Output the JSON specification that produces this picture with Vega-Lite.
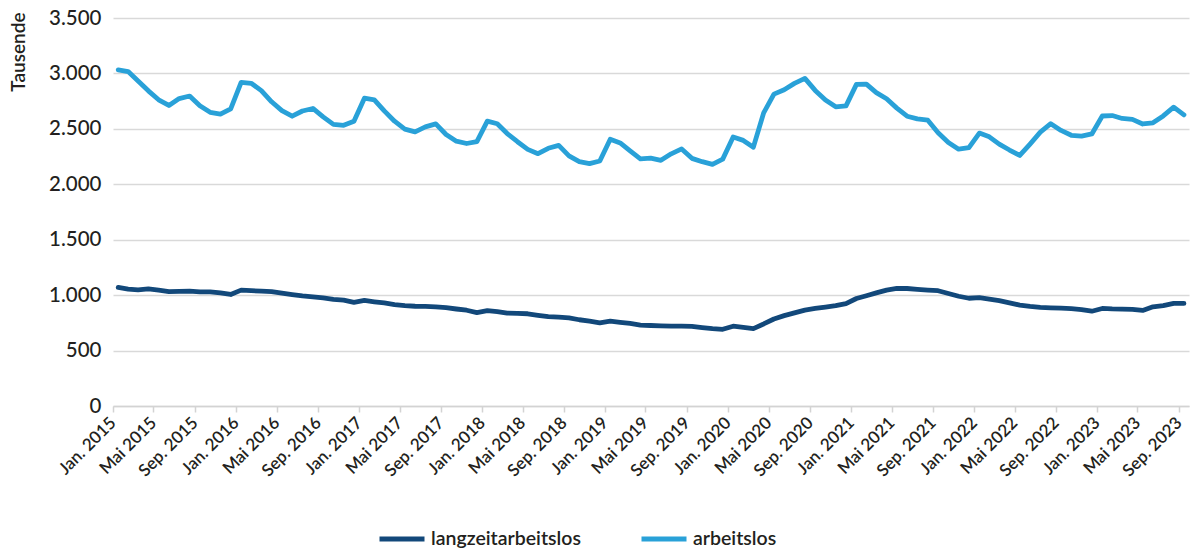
{
  "$schema": "https://vega.github.io/schema/vega-lite/v6.json",
  "width": 1076,
  "height": 388,
  "autosize": {"type": "none"},
  "padding": {"left": 113, "top": 18, "right": 1, "bottom": 143},
  "background": "white",
  "config": {"view": {"stroke": null}, "font": "Lato"},
  "data": {"values": [
    {"Monat": "2015-01", "arbeitslos": 3032, "langzeitarbeitslos": 1070},
    {"Monat": "2015-02", "arbeitslos": 3017, "langzeitarbeitslos": 1055},
    {"Monat": "2015-03", "arbeitslos": 2932, "langzeitarbeitslos": 1048},
    {"Monat": "2015-04", "arbeitslos": 2843, "langzeitarbeitslos": 1056},
    {"Monat": "2015-05", "arbeitslos": 2762, "langzeitarbeitslos": 1045},
    {"Monat": "2015-06", "arbeitslos": 2711, "langzeitarbeitslos": 1032},
    {"Monat": "2015-07", "arbeitslos": 2773, "langzeitarbeitslos": 1034},
    {"Monat": "2015-08", "arbeitslos": 2796, "langzeitarbeitslos": 1036},
    {"Monat": "2015-09", "arbeitslos": 2708, "langzeitarbeitslos": 1030},
    {"Monat": "2015-10", "arbeitslos": 2649, "langzeitarbeitslos": 1030},
    {"Monat": "2015-11", "arbeitslos": 2633, "langzeitarbeitslos": 1020},
    {"Monat": "2015-12", "arbeitslos": 2681, "langzeitarbeitslos": 1006},
    {"Monat": "2016-01", "arbeitslos": 2920, "langzeitarbeitslos": 1045},
    {"Monat": "2016-02", "arbeitslos": 2911, "langzeitarbeitslos": 1040},
    {"Monat": "2016-03", "arbeitslos": 2845, "langzeitarbeitslos": 1036},
    {"Monat": "2016-04", "arbeitslos": 2744, "langzeitarbeitslos": 1032},
    {"Monat": "2016-05", "arbeitslos": 2664, "langzeitarbeitslos": 1018},
    {"Monat": "2016-06", "arbeitslos": 2614, "langzeitarbeitslos": 1005},
    {"Monat": "2016-07", "arbeitslos": 2661, "langzeitarbeitslos": 993},
    {"Monat": "2016-08", "arbeitslos": 2684, "langzeitarbeitslos": 985},
    {"Monat": "2016-09", "arbeitslos": 2608, "langzeitarbeitslos": 975},
    {"Monat": "2016-10", "arbeitslos": 2540, "langzeitarbeitslos": 962},
    {"Monat": "2016-11", "arbeitslos": 2532, "langzeitarbeitslos": 955},
    {"Monat": "2016-12", "arbeitslos": 2568, "langzeitarbeitslos": 935},
    {"Monat": "2017-01", "arbeitslos": 2777, "langzeitarbeitslos": 952},
    {"Monat": "2017-02", "arbeitslos": 2762, "langzeitarbeitslos": 940},
    {"Monat": "2017-03", "arbeitslos": 2662, "langzeitarbeitslos": 930},
    {"Monat": "2017-04", "arbeitslos": 2569, "langzeitarbeitslos": 915},
    {"Monat": "2017-05", "arbeitslos": 2498, "langzeitarbeitslos": 905},
    {"Monat": "2017-06", "arbeitslos": 2473, "langzeitarbeitslos": 900},
    {"Monat": "2017-07", "arbeitslos": 2518, "langzeitarbeitslos": 898},
    {"Monat": "2017-08", "arbeitslos": 2545, "langzeitarbeitslos": 895},
    {"Monat": "2017-09", "arbeitslos": 2449, "langzeitarbeitslos": 888},
    {"Monat": "2017-10", "arbeitslos": 2389, "langzeitarbeitslos": 875},
    {"Monat": "2017-11", "arbeitslos": 2368, "langzeitarbeitslos": 864},
    {"Monat": "2017-12", "arbeitslos": 2385, "langzeitarbeitslos": 843},
    {"Monat": "2018-01", "arbeitslos": 2570, "langzeitarbeitslos": 860},
    {"Monat": "2018-02", "arbeitslos": 2546, "langzeitarbeitslos": 852},
    {"Monat": "2018-03", "arbeitslos": 2458, "langzeitarbeitslos": 838},
    {"Monat": "2018-04", "arbeitslos": 2384, "langzeitarbeitslos": 836},
    {"Monat": "2018-05", "arbeitslos": 2315, "langzeitarbeitslos": 832},
    {"Monat": "2018-06", "arbeitslos": 2276, "langzeitarbeitslos": 818},
    {"Monat": "2018-07", "arbeitslos": 2325, "langzeitarbeitslos": 806},
    {"Monat": "2018-08", "arbeitslos": 2351, "langzeitarbeitslos": 801},
    {"Monat": "2018-09", "arbeitslos": 2256, "langzeitarbeitslos": 795},
    {"Monat": "2018-10", "arbeitslos": 2204, "langzeitarbeitslos": 778},
    {"Monat": "2018-11", "arbeitslos": 2186, "langzeitarbeitslos": 766},
    {"Monat": "2018-12", "arbeitslos": 2210, "langzeitarbeitslos": 750},
    {"Monat": "2019-01", "arbeitslos": 2406, "langzeitarbeitslos": 765},
    {"Monat": "2019-02", "arbeitslos": 2373, "langzeitarbeitslos": 755},
    {"Monat": "2019-03", "arbeitslos": 2301, "langzeitarbeitslos": 745},
    {"Monat": "2019-04", "arbeitslos": 2229, "langzeitarbeitslos": 730},
    {"Monat": "2019-05", "arbeitslos": 2236, "langzeitarbeitslos": 726},
    {"Monat": "2019-06", "arbeitslos": 2216, "langzeitarbeitslos": 722},
    {"Monat": "2019-07", "arbeitslos": 2275, "langzeitarbeitslos": 720},
    {"Monat": "2019-08", "arbeitslos": 2319, "langzeitarbeitslos": 720},
    {"Monat": "2019-09", "arbeitslos": 2234, "langzeitarbeitslos": 718},
    {"Monat": "2019-10", "arbeitslos": 2204, "langzeitarbeitslos": 708},
    {"Monat": "2019-11", "arbeitslos": 2180, "langzeitarbeitslos": 698},
    {"Monat": "2019-12", "arbeitslos": 2227, "langzeitarbeitslos": 692},
    {"Monat": "2020-01", "arbeitslos": 2426, "langzeitarbeitslos": 720},
    {"Monat": "2020-02", "arbeitslos": 2396, "langzeitarbeitslos": 710},
    {"Monat": "2020-03", "arbeitslos": 2335, "langzeitarbeitslos": 698},
    {"Monat": "2020-04", "arbeitslos": 2644, "langzeitarbeitslos": 740},
    {"Monat": "2020-05", "arbeitslos": 2813, "langzeitarbeitslos": 785},
    {"Monat": "2020-06", "arbeitslos": 2853, "langzeitarbeitslos": 815},
    {"Monat": "2020-07", "arbeitslos": 2910, "langzeitarbeitslos": 840},
    {"Monat": "2020-08", "arbeitslos": 2955, "langzeitarbeitslos": 865},
    {"Monat": "2020-09", "arbeitslos": 2847, "langzeitarbeitslos": 880},
    {"Monat": "2020-10", "arbeitslos": 2760, "langzeitarbeitslos": 893},
    {"Monat": "2020-11", "arbeitslos": 2699, "langzeitarbeitslos": 905},
    {"Monat": "2020-12", "arbeitslos": 2707, "langzeitarbeitslos": 924},
    {"Monat": "2021-01", "arbeitslos": 2901, "langzeitarbeitslos": 970},
    {"Monat": "2021-02", "arbeitslos": 2904, "langzeitarbeitslos": 995},
    {"Monat": "2021-03", "arbeitslos": 2827, "langzeitarbeitslos": 1020},
    {"Monat": "2021-04", "arbeitslos": 2771, "langzeitarbeitslos": 1045},
    {"Monat": "2021-05", "arbeitslos": 2687, "langzeitarbeitslos": 1060},
    {"Monat": "2021-06", "arbeitslos": 2614, "langzeitarbeitslos": 1060},
    {"Monat": "2021-07", "arbeitslos": 2590, "langzeitarbeitslos": 1052},
    {"Monat": "2021-08", "arbeitslos": 2578, "langzeitarbeitslos": 1045},
    {"Monat": "2021-09", "arbeitslos": 2465, "langzeitarbeitslos": 1040},
    {"Monat": "2021-10", "arbeitslos": 2377, "langzeitarbeitslos": 1015},
    {"Monat": "2021-11", "arbeitslos": 2317, "langzeitarbeitslos": 990},
    {"Monat": "2021-12", "arbeitslos": 2330, "langzeitarbeitslos": 972},
    {"Monat": "2022-01", "arbeitslos": 2462, "langzeitarbeitslos": 978},
    {"Monat": "2022-02", "arbeitslos": 2428, "langzeitarbeitslos": 965},
    {"Monat": "2022-03", "arbeitslos": 2362, "langzeitarbeitslos": 950},
    {"Monat": "2022-04", "arbeitslos": 2309, "langzeitarbeitslos": 930},
    {"Monat": "2022-05", "arbeitslos": 2260, "langzeitarbeitslos": 910},
    {"Monat": "2022-06", "arbeitslos": 2363, "langzeitarbeitslos": 898},
    {"Monat": "2022-07", "arbeitslos": 2470, "langzeitarbeitslos": 890},
    {"Monat": "2022-08", "arbeitslos": 2547, "langzeitarbeitslos": 885},
    {"Monat": "2022-09", "arbeitslos": 2486, "langzeitarbeitslos": 882},
    {"Monat": "2022-10", "arbeitslos": 2442, "langzeitarbeitslos": 878},
    {"Monat": "2022-11", "arbeitslos": 2434, "langzeitarbeitslos": 870},
    {"Monat": "2022-12", "arbeitslos": 2454, "langzeitarbeitslos": 855},
    {"Monat": "2023-01", "arbeitslos": 2616, "langzeitarbeitslos": 880},
    {"Monat": "2023-02", "arbeitslos": 2620, "langzeitarbeitslos": 876},
    {"Monat": "2023-03", "arbeitslos": 2594, "langzeitarbeitslos": 874},
    {"Monat": "2023-04", "arbeitslos": 2586, "langzeitarbeitslos": 872},
    {"Monat": "2023-05", "arbeitslos": 2544, "langzeitarbeitslos": 862},
    {"Monat": "2023-06", "arbeitslos": 2555, "langzeitarbeitslos": 895},
    {"Monat": "2023-07", "arbeitslos": 2617, "langzeitarbeitslos": 905},
    {"Monat": "2023-08", "arbeitslos": 2696, "langzeitarbeitslos": 925},
    {"Monat": "2023-09", "arbeitslos": 2626, "langzeitarbeitslos": 925}
  ]},
  "transform": [{"fold": ["langzeitarbeitslos", "arbeitslos"], "as": ["Reihe", "Wert"]}],
  "mark": {"type": "line", "strokeWidth": 4.8, "strokeJoin": "round", "strokeCap": "round"},
  "encoding": {
    "x": {
      "field": "Monat", "timeUnit": "utcyearmonth", "type": "temporal", "bandPosition": 0.5,
      "scale": {"domain": [{"year": 2015, "month": 1, "date": 1, "utc": true}, {"year": 2023, "month": 10, "date": 1, "utc": true}]},
      "axis": {
        "title": null, "grid": false, "domain": true, "domainColor": "#d3d3d3", "domainWidth": 1.5,
        "ticks": true, "tickColor": "#d3d3d3", "tickSize": 6, "tickWidth": 1.5,
        "tickCount": {"interval": "month", "step": 4},
        "labelAngle": -45, "labelAlign": "right", "labelBaseline": "middle", "labelPadding": 8,
        "labelFontSize": 17, "labelFontWeight": 600, "labelColor": "#231f20",
        "labelOverlap": false, "labelBound": false, "labelFlush": false,
        "labelExpr": "(utcFormat(datum.value, '%m') == '01' ? 'Jan. ' : utcFormat(datum.value, '%m') == '05' ? 'Mai ' : 'Sep. ') + utcFormat(datum.value, '%Y')"
      }
    },
    "y": {
      "field": "Wert", "type": "quantitative",
      "scale": {"domain": [0, 3500], "nice": false},
      "axis": {
        "title": "Tausende", "values": [0, 500, 1000, 1500, 2000, 2500, 3000, 3500],
        "domain": false, "ticks": false, "gridColor": "#d9d9d9", "gridWidth": 1.5,
        "labelFontSize": 20.5, "labelFontWeight": 500, "labelColor": "#231f20", "labelPadding": 12,
        "labelExpr": "replace(format(datum.value, ','), ',', '.')",
        "titleAngle": -90, "titleAnchor": "end", "titleAlign": "right", "titleBaseline": "alphabetic",
        "titleX": -89, "titleY": -6, "titleFontSize": 19, "titleFontWeight": 600, "titleColor": "#231f20"
      }
    },
    "color": {
      "field": "Reihe", "type": "nominal",
      "scale": {"domain": ["langzeitarbeitslos", "arbeitslos"], "range": ["#12487a", "#29a1d8"]},
      "legend": {
        "title": null, "orient": "none", "direction": "horizontal", "legendX": 264, "legendY": 496,
        "padding": 0, "symbolType": "stroke", "symbolSize": 2025, "symbolStrokeWidth": 5,
        "labelFontSize": 19.5, "labelFontWeight": 600, "labelColor": "#231f20",
        "columnPadding": 50, "labelOffset": 4
      }
    }
  }
}
